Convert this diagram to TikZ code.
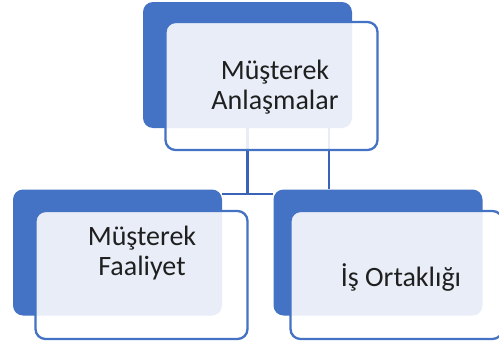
\documentclass[tikz,border=0pt]{standalone}
\usepackage{fontspec}
\setmainfont{Carlito}
\usetikzlibrary{calc}
\definecolor{accent}{HTML}{4472C4}
\definecolor{linkblue}{HTML}{3A63B8}
\definecolor{ink}{HTML}{1F1F1F}
\begin{document}
\begin{tikzpicture}[x=1pt,y=1pt,
  backbox/.style={rectangle, rounded corners=10pt, fill=accent, draw=none,
    minimum width=209pt, minimum height=126pt, inner sep=0pt},
  frontbox/.style={rectangle, rounded corners=10pt, fill=white, fill opacity=0.88,
    draw=accent, draw opacity=1, line width=2.3pt,
    minimum width=212pt, minimum height=128pt, inner sep=0pt},
  conn/.style={draw=linkblue, line width=2.3pt},
  lbl/.style={text=ink, align=center, font=\fontsize{28}{30}\selectfont, inner sep=0pt}]
\useasboundingbox (0,0) rectangle (499,-343);

% coloured back panels
\node[backbox] (topback)   at (247.5,-65)   {};
\node[backbox] (leftback)  at (117.5,-252.5) {};
\node[backbox] (rightback) at (378,-252.5)   {};

% hierarchy connectors
\coordinate (bus) at ($(leftback.north)+(0,-4.5)$);
\coordinate (tap) at ($(topback.south)+(81.5,0)$);
\draw[conn] (topback.south) |- (leftback.east |- bus);
\draw[conn] (topback.south) |- (rightback.west |- bus);
\draw[conn] (tap) -- (tap |- rightback.north);

% translucent front panels
\node[frontbox] (topfront)   at (271.5,-86) {};
\node[frontbox] (leftfront)  at (141.5,-275) {};
\node[frontbox] (rightfront) at (396.5,-275) {};

% labels
\node[lbl] (toptext)   at (275,-87)  {Müşterek\\Anlaşmalar};
\node[lbl] (lefttext)  at (142,-253) {Müşterek\\Faaliyet};
\node[lbl] (righttext) at (401,-277) {İş Ortaklığı};
\end{tikzpicture}
\end{document}
